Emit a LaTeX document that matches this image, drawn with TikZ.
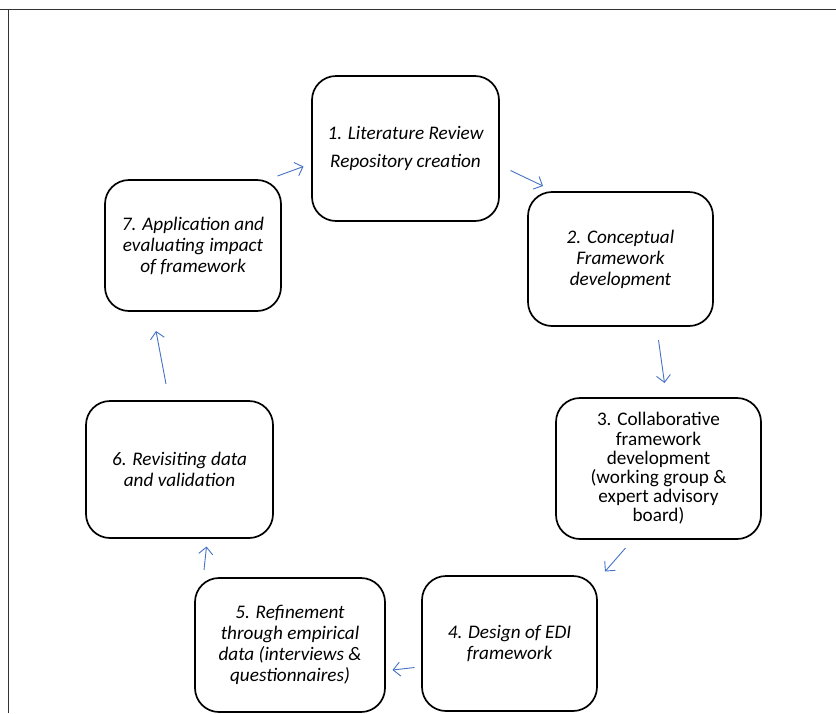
\documentclass[tikz,border=0pt]{standalone}
\usepackage{fontspec}
\setmainfont{Carlito}
\usepackage{tikz}
\usepackage{xcolor}
\usetikzlibrary{arrows.meta}

\definecolor{arrowblue}{RGB}{68,114,196}

\tikzset{
  stagebox/.style={draw, line width=1.7pt, rounded corners=24pt, align=center,
    inner sep=0pt, font=\fontsize{19.2}{21}\selectfont\itshape},
  cyclearrow/.style={draw=arrowblue, line width=0.9pt,
    -{Straight Barb[length=7pt,width=14pt]}}
}

\begin{document}
\begin{tikzpicture}[x=1pt,y=-1pt]

\useasboundingbox (0,0) rectangle (836,713);

% frame lines
\draw [line width=1.2pt, color=black!80] (0,9.5) -- (836,9.5);
\draw [line width=1.2pt, color=black!80] (8.5,9.5) -- (8.5,713);

% stages
\node [stagebox, minimum width=187pt, minimum height=145pt,
  font=\fontsize{19.2}{28.5}\selectfont\itshape] (lit) at (405.5,148.5)
  {1. Literature Review\\Repository creation};
\node [stagebox, minimum width=185pt, minimum height=134pt] (concept) at (620.5,259)
  {2. Conceptual\\Framework\\development};
\node [stagebox, minimum width=205pt, minimum height=141pt,
  font=\fontsize{19.2}{19.2}\selectfont] (collab) at (658.5,468.5)
  {3. Collaborative\\framework\\development\\(working group \&\\expert advisory\\board)};
\node [stagebox, minimum width=175pt, minimum height=135pt] (design) at (509.5,643.5)
  {4. Design of EDI\\framework};
\node [stagebox, minimum width=190pt, minimum height=134pt] (refine) at (290,645)
  {5. Refinement\\through empirical\\data (interviews \&\\questionnaires)};
\node [stagebox, minimum width=187pt, minimum height=137pt] (revisit) at (179.5,469.5)
  {6. Revisiting data\\and validation};
\node [stagebox, minimum width=176pt, minimum height=131pt] (apply) at (193,245.5)
  {7. Application and\\evaluating impact\\of framework};

% arrow ends
\coordinate (a71) at (277.5,176);   \coordinate (b71) at (303.5,166.5);
\coordinate (a12) at (510.5,170.5); \coordinate (b12) at (543,186);
\coordinate (a23) at (658.5,340);   \coordinate (b23) at (664.5,383);
\coordinate (a34) at (625.5,548);   \coordinate (b34) at (605,571.5);
\coordinate (a45) at (414.5,667.5); \coordinate (b45) at (392.5,670);
\coordinate (a56) at (204,570);     \coordinate (b56) at (206.5,546.5);
\coordinate (a67) at (166,384);     \coordinate (b67) at (156,331);

\draw [cyclearrow] (a71) -- (b71);
\draw [cyclearrow] (a12) -- (b12);
\draw [cyclearrow] (a23) -- (b23);
\draw [cyclearrow] (a34) -- (b34);
\draw [cyclearrow] (a45) -- (b45);
\draw [cyclearrow] (a56) -- (b56);
\draw [cyclearrow] (a67) -- (b67);

\end{tikzpicture}
\end{document}
